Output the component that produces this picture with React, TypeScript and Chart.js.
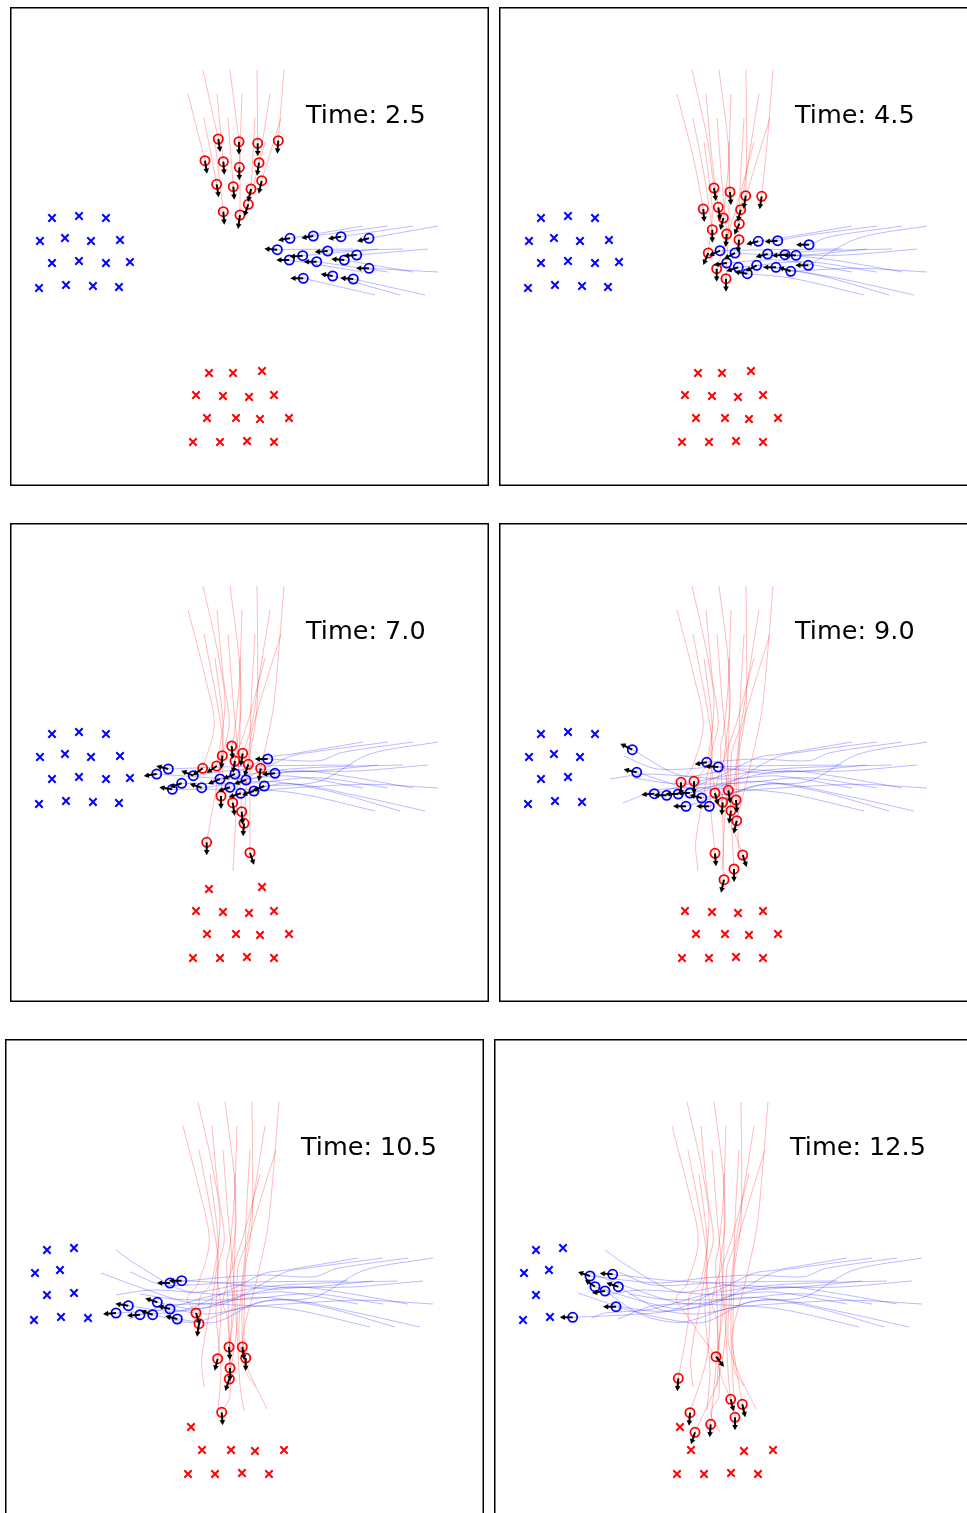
import React, { useEffect, useRef } from "react";
import { Chart, registerables } from "chart.js";
Chart.register(...registerables);

type Pt = [number, number];
type Snap = [number, number, number, number]; // x, y, arrow dx, arrow dy

const timeLabels = ["2.5", "4.5", "7.0", "9.0", "10.5", "12.5"];

// goal positions (x, y in the field's units, y measured downward)
const redGoals: Pt[] = [
  [199, 366], [223, 366], [252, 364],
  [186, 388], [213, 389], [239, 390], [264, 388],
  [197, 411], [226, 411], [250, 412], [279, 411],
  [183, 435], [210, 435], [237, 434], [264, 435],
];
// snapshot index from which the goal is gone (6 = never)
const redGoalGone = [3, 2, 3, 6, 4, 4, 4, 6, 5, 6, 6, 6, 6, 6, 6];

const blueGoals: Pt[] = [
  [42, 211], [69, 209], [96, 211],
  [30, 234], [55, 231], [81, 234], [110, 233],
  [42, 256], [69, 254], [96, 256], [120, 255],
  [29, 281], [56, 278], [83, 279], [109, 280],
];
const blueGoalGone = [6, 6, 4, 6, 6, 4, 3, 6, 5, 3, 3, 6, 6, 5, 3];

// red agents: start positions
const redStarts: Pt[] = [
  [193, 63], [220, 63], [247, 63], [274, 63],
  [178, 87], [207, 87], [260, 87], [232, 87],
  [194, 111], [218, 111], [271, 111], [245, 111],
  [255, 135], [205, 135], [230, 135],
];
// red agents: state at each time snapshot
const redSnaps: Snap[][] = [
  [[208.3, 132, 2, 13], [215, 181, 2, 13], [206.7, 243, -10, 7], [195, 258.3, 0, 13], [194, 284.7, -2, 13], [184.3, 339.3, -1, 13]],
  [[229, 134.7, 0, 13], [231, 185, 1, 13], [225, 238, -2, 12], [229.3, 267.3, 2, 13], [224, 308, 1, 13], [216.7, 385.3, -1, 13]],
  [[247.7, 136.3, 0, 13], [246.7, 188.7, -2, 13], [238.3, 241.3, -4, 12], [237, 277, 1, 13], [237.3, 308, 2, 13], [241, 378.3, 0, 13]],
  [[268.3, 133.7, -1, 13], [262.7, 189.3, -2, 13], [250.7, 245.3, -2, 13], [237.7, 297.7, -3, 13], [240.7, 319, 0, 13], [248.3, 365.3, 3, 13]],
  [[195, 153.7, 2, 13], [204.3, 202, 1, 13], [192.7, 245.3, -10, 7], [182, 259.3, 0, 13], [191, 274, 4, 12], [222, 317.7, 8, 10]],
  [[213.3, 154.7, 1, 13], [219.3, 200.3, 2, 13], [212.3, 232.7, -1, 13], [216, 270, 3, 12], [212.7, 319.7, -3, 12], [196, 373.7, -1, 13]],
  [[249, 155.7, -2, 13], [241.7, 202.7, -3, 12], [232.7, 230.3, -2, 13], [232, 287.7, -2, 13], [224.3, 340, -4, 12], [201, 393.3, -4, 12]],
  [[229.3, 160.3, 0, 13], [224.3, 211, -3, 12], [221.7, 223, 1, 13], [223.7, 279.3, -1, 13], [225, 329, 0, 13], [236.7, 360.3, 3, 12]],
  [[206.7, 177.3, 2, 13], [213.3, 222.7, 0, 13], [211, 273, 0, 13], [216, 330.3, 1, 13]],
  [[223.3, 179.7, 1, 13], [227.7, 227, -1, 13], [231.7, 288.7, 1, 13], [235, 346, 0, 13]],
  [[251.7, 173.7, -3, 13], [240.3, 216.7, -5, 11], [234, 300.3, -1, 13], [243.7, 332, 4, 12]],
  [[241, 182, -3, 13], [240, 232.7, -1, 13], [240, 329.7, 4, 12]],
  [[238.3, 197.3, -4, 12], [217.7, 261.7, 0, 13], [222.7, 279.7, 2, 13], [225, 356.7, -3, 13], [216.7, 373.3, 1, 13]],
  [[213.3, 204.7, 1, 13], [209.3, 246, -5, 12], [196.7, 319.3, 0, 13]],
  [[230, 208, -2, 14], [227, 271.7, 0, 13]],
];
// where finished red agents stopped
const redEnds: (Pt | null)[] = [
  null, null, null, null, null, null, null, null,
  [213, 371], [239, 372], [262, 370], [250, 347], [226, 393], [199, 348], [223, 348],
];

// blue agents
const blueStarts: Pt[] = [
  [353, 219], [378, 219], [403, 219], [428, 219],
  [343, 242], [393, 242], [418, 242], [368, 242],
  [353, 265], [378, 265], [403, 265], [428, 265],
  [365, 288], [390, 288], [415, 288],
];
const blueSnaps: Snap[][] = [
  [[280, 231.3, -12, 2], [259.3, 234.3, -12, 3], [225, 251, -12, 5], [179.3, 271, -13, 0], [135, 275.7, -13, 1], [78.7, 278.3, -13, 0]],
  [[303.3, 229, -12, 2], [278.7, 233.7, -13, 1], [220, 264.3, -12, 4], [167.7, 272.3, -13, 0], [123.3, 266.7, -13, -2]],
  [[331, 229.7, -13, 2], [310, 237.7, -13, 0], [257.7, 236, -13, 0], [207.7, 239.3, -12, 2], [165, 244, -13, 0], [96, 237, -12, -4]],
  [[359, 231.3, -12, 3], [309.3, 258.3, -13, 0], [254.3, 263, -12, 5], [210.3, 283.3, -13, 0], [172.3, 280, -12, -3], [122, 267.7, -13, 0]],
  [[267.3, 242.7, -13, -1], [221, 243.7, -11, 5], [158.3, 246, -12, -3]],
  [[317.7, 244, -13, 1], [268.7, 247, -12, 3], [210, 256, -12, 5], [155.3, 270.7, -13, 1], [111, 274, -13, 1]],
  [[346.7, 248, -13, 1], [297, 248.3, -13, 0], [265, 250.3, -13, 1], [219.3, 244, -13, -1], [176.7, 241.7, -13, 0], [118.7, 235.3, -13, -1]],
  [[292.7, 248.7, -13, 1], [236, 246, -11, 6], [183.3, 252.7, -12, -5], [133.3, 226.7, -12, -6]],
  [[279.3, 253, -13, 0], [227.7, 256, -13, 2], [146.7, 251, -13, 2]],
  [[306.7, 254.7, -13, 0], [239.3, 260.3, -12, 4], [171.7, 260.3, -12, 4]],
  [[334.3, 253, -13, -1], [286, 247.7, -13, 1], [236, 257, -12, 4], [191, 270, -13, 0], [152.3, 263.3, -12, -4], [101, 247.7, -10, -7]],
  [[359, 261.3, -13, 0], [291.7, 264.3, -12, -4], [244, 268, -12, 4], [202.7, 275, -12, -3], [165, 270, -12, -3], [124.3, 247.7, -12, -4]],
  [[293.3, 271.3, -13, 0], [248.3, 266.7, -13, -2], [162.3, 266.3, -13, -2]],
  [[322.7, 269, -12, -2], [257.7, 258.3, -11, 6], [191.7, 264.7, -12, -4], [137.7, 249.3, -13, -3]],
  [[343.3, 272, -13, -1], [277, 260.3, -13, 0], [230.7, 270.3, -12, 4], [187, 283.3, -13, 0], [147.7, 275.7, -12, -4], [111, 252, -13, 2]],
];
const blueEnds: (Pt | null)[] = [
  null, [84, 254], null, null, [125, 233], [98, 279], null, [111, 211],
  [111, 256], [135, 255], null, null, [124, 280], [96, 234], null,
];

const PANEL_POS: Pt[] = [
  [10, 7], [499, 7], [10, 523], [499, 523], [5, 1039], [494, 1039],
];
const SIZE = 479;

function trackPoints(start: Pt, snaps: Snap[], end: Pt | null, idx: number) {
  const pts = [{ x: start[0], y: start[1] }];
  const n = Math.min(snaps.length, idx + 1);
  for (let i = 0; i < n; i++) pts.push({ x: snaps[i][0], y: snaps[i][1] });
  if (snaps.length <= idx && end) pts.push({ x: end[0], y: end[1] });
  return pts;
}

function Panel({ idx, left, top }: { idx: number; left: number; top: number }) {
  const ref = useRef<HTMLCanvasElement>(null);
  useEffect(() => {
    if (!ref.current) return;
    const redActive = redSnaps.filter((s) => s.length > idx).map((s) => s[idx]);
    const blueActive = blueSnaps.filter((s) => s.length > idx).map((s) => s[idx]);
    const arrows = [...redActive, ...blueActive];

    const datasets: any[] = [];
    const circle = (data: Snap[], color: string) => ({
      data: data.map((s) => ({ x: s[0], y: s[1] })),
      showLine: false,
      pointStyle: "circle",
      pointRadius: 4.6,
      pointBorderWidth: 1.8,
      pointBorderColor: color,
      pointBackgroundColor: "rgba(0,0,0,0)",
    });
    datasets.push(circle(redActive, "#ff0000"));
    datasets.push(circle(blueActive, "#0000ff"));
    const goals = (g: Pt[], gone: number[], color: string) => ({
      data: g.filter((_, i) => gone[i] > idx).map((p) => ({ x: p[0], y: p[1] })),
      showLine: false,
      pointStyle: "crossRot",
      pointRadius: 5.2,
      pointBorderWidth: 2,
      pointBorderColor: color,
      pointBackgroundColor: color,
    });
    datasets.push(goals(redGoals, redGoalGone, "#ff0000"));
    datasets.push(goals(blueGoals, blueGoalGone, "#0000ff"));
    const line = (pts: { x: number; y: number }[], color: string) => ({
      data: pts,
      showLine: true,
      pointRadius: 0,
      borderColor: color,
      borderWidth: 0.9,
      tension: 0.3,
      fill: false,
    });
    redStarts.forEach((s, i) => datasets.push(line(trackPoints(s, redSnaps[i], redEnds[i], idx), "rgba(255,0,0,0.3)")));
    blueStarts.forEach((s, i) => datasets.push(line(trackPoints(s, blueSnaps[i], blueEnds[i], idx), "rgba(0,0,255,0.3)")));

    const overlay = {
      id: "overlay",
      afterDatasetsDraw(chart: any) {
        const { ctx } = chart;
        const xs = chart.scales.x;
        const ys = chart.scales.y;
        ctx.save();
        ctx.fillStyle = "#000";
        ctx.strokeStyle = "#000";
        for (const a of arrows) {
          const x0 = xs.getPixelForValue(a[0]);
          const y0 = ys.getPixelForValue(a[1]);
          const x1 = xs.getPixelForValue(a[0] + a[2]);
          const y1 = ys.getPixelForValue(a[1] + a[3]);
          const dx = x1 - x0, dy = y1 - y0;
          const len = Math.hypot(dx, dy) || 1;
          const ux = dx / len, uy = dy / len;
          const hl = 5.2, hw = 2.8;
          const bx = x1 - ux * hl, by = y1 - uy * hl;
          ctx.lineWidth = 2;
          ctx.beginPath();
          ctx.moveTo(x0, y0);
          ctx.lineTo(bx + ux, by + uy);
          ctx.stroke();
          ctx.beginPath();
          ctx.moveTo(x1, y1);
          ctx.lineTo(bx - uy * hw, by + ux * hw);
          ctx.lineTo(bx + uy * hw, by - ux * hw);
          ctx.closePath();
          ctx.fill();
        }
        ctx.font = '25.5px "DejaVu Sans"';
        ctx.textAlign = "left";
        ctx.textBaseline = "alphabetic";
        ctx.fillText("Time: " + timeLabels[idx], xs.getPixelForValue(296), ys.getPixelForValue(116.3));
        const ca = chart.chartArea;
        ctx.lineWidth = 1.5;
        ctx.strokeRect(ca.left + 0.75, ca.top + 0.75, ca.right - ca.left - 1.5, ca.bottom - ca.top - 1.5);
        ctx.restore();
      },
    };

    const chart = new Chart(ref.current, {
      type: "scatter",
      data: { datasets },
      options: {
        animation: false,
        responsive: false,
        devicePixelRatio: 1,
        events: [],
        layout: { padding: 0, autoPadding: false },
        plugins: { legend: { display: false }, tooltip: { enabled: false } },
        scales: {
          x: { type: "linear", min: 0, max: SIZE, display: false },
          y: { type: "linear", min: 0, max: SIZE, reverse: true, display: false },
        },
      },
      plugins: [overlay],
    } as any);
    return () => chart.destroy();
  }, [idx]);
  return (
    <canvas
      ref={ref}
      width={SIZE}
      height={SIZE}
      style={{ position: "absolute", left, top, width: SIZE, height: SIZE }}
    />
  );
}

export default function App() {
  return (
    <div
      style={{
        position: "absolute",
        left: 0,
        top: 0,
        width: 967,
        height: 1513,
        overflow: "hidden",
        background: "#fff",
      }}
    >
      {PANEL_POS.map((p, i) => (
        <Panel key={i} idx={i} left={p[0]} top={p[1]} />
      ))}
    </div>
  );
}
